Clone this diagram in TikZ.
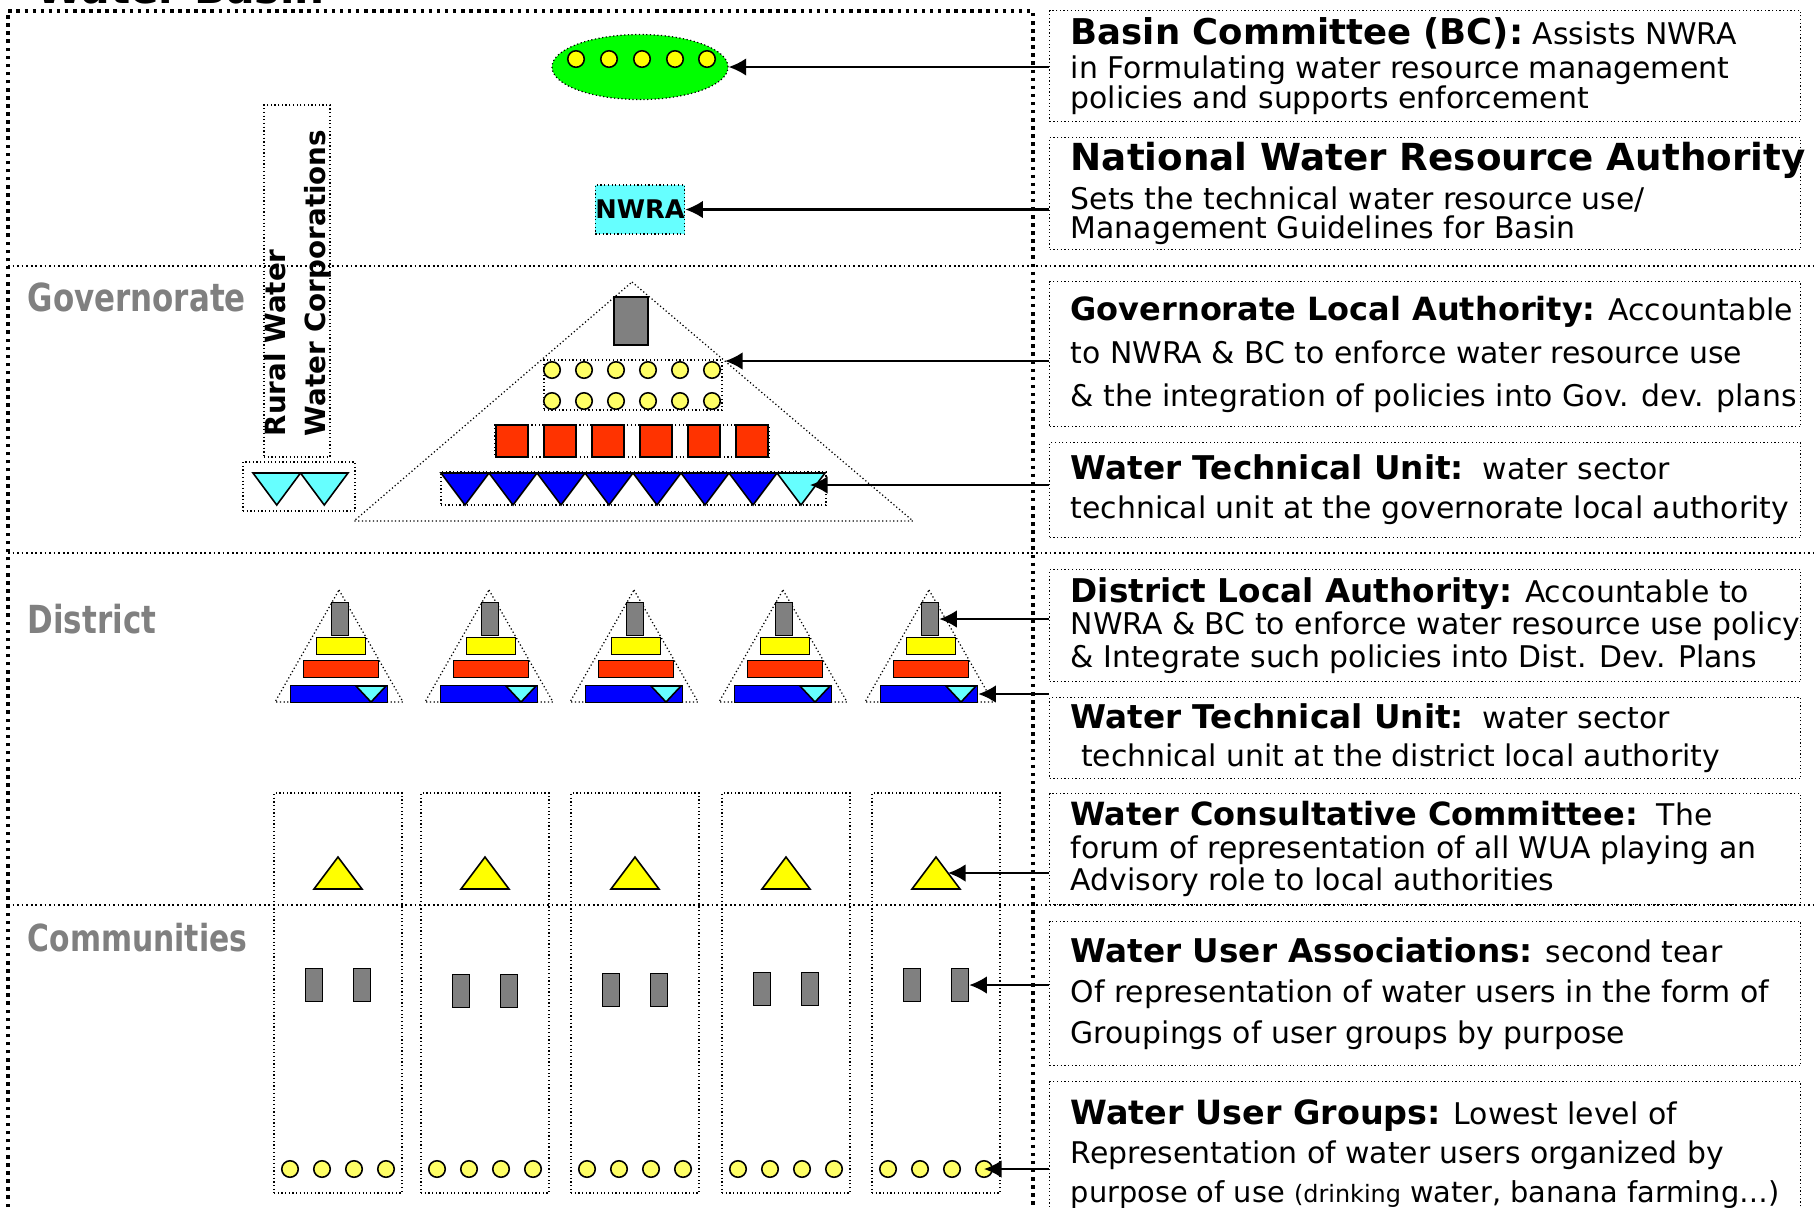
\documentclass[tikz,border=0pt]{standalone}
\usepackage{fontspec}
\setmainfont{DejaVu Sans}
\newfontfamily\labelfont[FakeStretch=0.8]{DejaVu Sans}
\usetikzlibrary{arrows.meta,shapes.geometric}

\definecolor{bcgreen}{RGB}{0,255,0}
\definecolor{dotyellow}{RGB}{255,255,0}
\definecolor{paleyellow}{RGB}{255,255,102}
\definecolor{wcyan}{RGB}{102,255,255}
\definecolor{wred}{RGB}{255,51,0}
\definecolor{wblue}{RGB}{0,0,255}
\definecolor{wgray}{RGB}{128,128,128}
\definecolor{labelgray}{RGB}{128,128,128}

\newcommand{\hd}[2][9.3]{{\fontsize{#1}{#1}\selectfont\bfseries #2}}
\newcommand{\bodyskip}[1]{\fontsize{8.5}{#1}\selectfont}

\tikzset{
  frameline/.style={line width=1pt, dash pattern=on 1pt off 1.3pt},
  sepline/.style={line width=0.5pt, dash pattern=on 0.5pt off 0.8pt},
  boxline/.style={line width=0.35pt, dash pattern=on 0.35pt off 0.7pt},
  shapeline/.style={draw=black, line width=0.45pt},
  infobox/.style={draw, boxline, anchor=north west, minimum width=75.1mm, inner sep=0pt},
  infotext/.style={anchor=west, align=left, inner sep=0pt, xshift=2.1mm},
  ydot/.style={circle, shapeline, fill=paleyellow, minimum size=1.65mm, inner sep=0pt},
  block/.style={rectangle, shapeline, inner sep=0pt},
  arr/.style={line width=0.6pt, -{Latex[length=5pt,width=5pt]}},
  levellabel/.style={anchor=west, inner sep=0pt, text=labelgray, font=\labelfont\bfseries\fontsize{11}{11}\selectfont}
}

\begin{document}
\begin{tikzpicture}[x=0.1mm, y=-0.1mm]
      \useasboundingbox (0,0) rectangle (1814,1207);

      % title, cut by the top edge
      \node[anchor=base west, inner sep=0pt, font=\fontsize{12}{12}\selectfont\bfseries] (title) at (36,3) {Water Basin};

      \draw[frameline] (8,1207) -- (8,11) -- (1033,11) -- (1033,1207);
      \foreach \y in {266,553,905}
        \draw[sepline] (8,\y) -- (1814,\y);

      \node[levellabel] (govlabel) at (27,297) {Governorate};
      \node[levellabel] (distlabel) at (27,619) {District};
      \node[levellabel, font=\labelfont\bfseries\fontsize{10.6}{11}\selectfont] (commlabel) at (27,938) {Communities};

      % basin level
      \node[ellipse, draw, boxline, fill=bcgreen, minimum width=17.6mm, minimum height=6.5mm, inner sep=0pt] (bc) at (640,67) {};
      \foreach \x [count=\j] in {576,609,642,675,707}
        \node[ydot, fill=dotyellow] (bcdot\j) at (\x,59) {};

      \node[draw, boxline, fill=wcyan, minimum width=8.2mm, minimum height=4.9mm, inner sep=0pt, font=\fontsize{7.3}{7.3}\selectfont\bfseries] (nwra) at (640,209.5) {NWRA};

      \node[draw, boxline, minimum width=6.6mm, minimum height=35.2mm, inner sep=0pt] (rwc) at (297,281) {};
      \node[rotate=90, anchor=north west, align=left, inner sep=0pt, font=\fontsize{7.9}{11.2}\selectfont\bfseries] (rwctext) at (264,437) {Rural Water\\Water Corporations};
      \node[draw, boxline, minimum width=11.2mm, minimum height=4.9mm, inner sep=0pt] (rwctri) at (299,486.5) {};
      \foreach \x in {253,300.5}
        \filldraw[shapeline, fill=wcyan] (\x,473) -- (\x+47.5,473) -- (\x+23.75,505) -- cycle;

      % governorate pyramid
      \draw[boxline] (632,282) -- (913,521) -- (354,521) -- cycle;
      \node[block, fill=wgray, minimum width=3.4mm, minimum height=4.8mm] (ggray) at (631,321) {};
      \node[draw, boxline, minimum width=17.8mm, minimum height=5mm, inner sep=0pt] (gdots) at (633,385) {};
      \foreach \x [count=\j] in {552,584,616,648,680,712}{
        \node[ydot] (gdota\j) at (\x,370) {};
        \node[ydot] (gdotb\j) at (\x,401) {};
      }
      \node[draw, boxline, minimum width=27.4mm, minimum height=3.2mm, inner sep=0pt] (gredrow) at (632,441) {};
      \foreach \x [count=\j] in {512,560,608,656,704,752}
        \node[block, fill=wred, minimum width=3.25mm, minimum height=3.2mm] (gred\j) at (\x,441) {};
      \node[draw, boxline, minimum width=38.5mm, minimum height=3.3mm, inner sep=0pt] (gwtu) at (633.5,488.5) {};
      \foreach \i in {0,...,6}
        \filldraw[shapeline, fill=wblue] (441+48*\i,473) -- ++(48,0) -- ++(-24,32) -- cycle;
      \filldraw[shapeline, fill=wcyan] (777,473) -- ++(48,0) -- ++(-24,32) -- cycle;
      \coordinate (glatip) at (725,361);
      \coordinate (gwtutip) at (810,485);

      % district pyramids
      \foreach \p [count=\i] in {339,489,634,783,929}{
        \draw[boxline] (\p,590) -- (\p+64,702) -- (\p-64,702) -- cycle;
        \node[block, fill=wgray, minimum width=1.7mm, minimum height=3.3mm] (dgray\i) at (\p+1,619) {};
        \node[block, fill=dotyellow, minimum width=4.9mm, minimum height=1.7mm] (dyel\i) at (\p+2,646) {};
        \node[block, fill=wred, minimum width=7.5mm, minimum height=1.7mm] (dred\i) at (\p+2,669) {};
        \node[block, fill=wblue, minimum width=9.7mm, minimum height=1.7mm] (dblue\i) at (\p,694) {};
        \filldraw[shapeline, fill=wcyan] (\p+17,686) -- (\p+47,686) -- (\p+32,702) -- cycle;
      }

      % community columns
      \foreach \c/\g [count=\i] in {338/985,485/991,635/990,786/989,936/985}{
        \node[draw, boxline, minimum width=12.8mm, minimum height=40mm, inner sep=0pt] (col\i) at (\c,993) {};
        \filldraw[shapeline, fill=dotyellow] (\c,857) -- (\c+24,889) -- (\c-24,889) -- cycle;
        \coordinate (wcc\i) at (\c+12,873);
        \node[block, fill=wgray, minimum width=1.7mm, minimum height=3.3mm] (cgrayl\i) at (\c-24,\g) {};
        \node[block, fill=wgray, minimum width=1.7mm, minimum height=3.3mm] (cgrayr\i) at (\c+24,\g) {};
        \foreach \d [count=\j] in {-48,-16,16,48}
          \node[ydot] (cdot\i\j) at (\c+\d,1169) {};
      }

      % explanations
      \node[infobox, minimum height=11.1mm] (bcinfo) at (1049,10) {};
      \node[infotext, font=\bodyskip{8.4pt}] (bctext) at (bcinfo.west) {\hd[10.1]{Basin Committee (BC):} Assists NWRA\\[1.3pt] in Formulating water resource management\\ policies and supports enforcement};

      \node[infobox, minimum height=11.2mm] (nwrainfo) at (1049,137) {};
      \node[infotext, font=\bodyskip{8.4pt}] (nwratext) at (nwrainfo.west) {\hd[10.6]{National Water Resource Authority}\\[1.3pt] Sets the technical water resource use/\\ Management Guidelines for Basin};

      \node[infobox, minimum height=14.5mm] (glainfo) at (1049,281) {};
      \node[infotext, font=\bodyskip{12.2pt}] (glatext) at (glainfo.west) {\hd[9.1]{Governorate Local Authority:} Accountable\\ to NWRA \& BC to enforce water resource use\\ \& the integration of policies into Gov. dev. plans};

      \node[infobox, minimum height=9.5mm] (gwtuinfo) at (1049,442) {};
      \node[infotext, font=\bodyskip{11.1pt}] (gwtutext) at (gwtuinfo.west) {\hd{Water Technical Unit:}\ \ water sector\\ technical unit at the governorate local authority};

      \node[infobox, minimum height=11.2mm] (dlainfo) at (1049,569) {};
      \node[infotext, font=\bodyskip{9.3pt}] (dlatext) at (dlainfo.west) {\hd{District Local Authority:} Accountable to\\ NWRA \& BC to enforce water resource use policy\\ \& Integrate such policies into Dist. Dev. Plans};

      \node[infobox, minimum height=8.1mm] (dwtuinfo) at (1049,697) {};
      \node[infotext, font=\bodyskip{10.8pt}] (dwtutext) at (dwtuinfo.west) {\hd{Water Technical Unit:}\ \ water sector\\ \hspace*{3pt}technical unit at the district local authority};

      \node[infobox, minimum height=11.1mm] (wccinfo) at (1049,793) {};
      \node[infotext, font=\bodyskip{9.2pt}] (wcctext) at (wccinfo.west) {\hd[9.1]{Water Consultative Committee:}\ \ The\\ forum of representation of all WUA playing an\\ Advisory role to local authorities};

      \node[infobox, minimum height=14.4mm] (wuainfo) at (1049,921) {};
      \node[infotext, font=\bodyskip{11.4pt}] (wuatext) at (wuainfo.west) {\hd{Water User Associations:} second tear\\ Of representation of water users in the form of\\ Groupings of user groups by purpose};

      \node[infobox, minimum height=14.5mm] (wuginfo) at (1049,1081) {};
      \node[infotext, font=\bodyskip{11pt}] (wugtext) at (wuginfo.west) {\hd[9.5]{Water User Groups:} Lowest level of\\ Representation of water users organized by\\ {\fontsize{8.2}{8.2}\selectfont purpose of use {\fontsize{6.8}{7}\selectfont(drinking} water, banana farming…)}};

      \draw[arr] (bcinfo.west |- bc.east) -- (bc.east);
      \draw[arr] (nwrainfo.west |- nwra.east) -- (nwra.east);
      \draw[arr] (glainfo.west |- glatip) -- (glatip);
      \draw[arr] (gwtuinfo.west |- gwtutip) -- (gwtutip);
      \draw[arr] (dlainfo.west |- dgray5.east) -- (dgray5.east);
      \draw[arr] (dwtuinfo.west |- dblue5.east) -- (dblue5.east);
      \draw[arr] (wccinfo.west |- wcc5) -- (wcc5);
      \draw[arr] (wuainfo.west |- cgrayr5.east) -- (cgrayr5.east);
      \draw[arr] (wuginfo.west |- cdot54) -- (cdot54.center);
\end{tikzpicture}
\end{document}
